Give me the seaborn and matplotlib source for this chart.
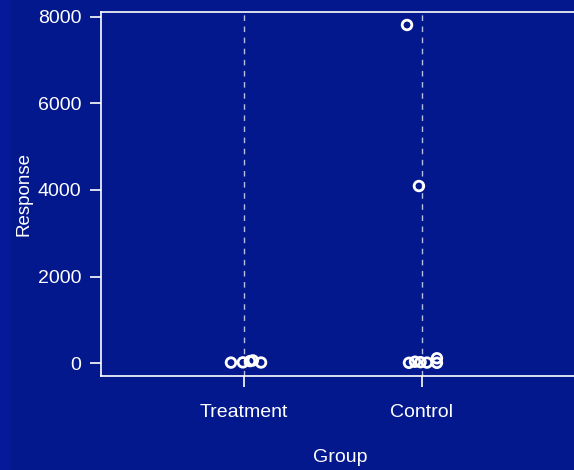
import matplotlib
matplotlib.use("Agg")
import matplotlib.pyplot as plt
import seaborn as sns
import pandas as pd
import numpy as np
from matplotlib.patches import Rectangle

# Data
categories = ["Treatment", "Control"]
treatment_values = [10, 15, 45, 60, 12]
treatment_jitter = [-0.073, -0.006, 0.034, 0.050, 0.096]
control_values = [7815, 4092, 5, 30, 20, 10, 110, 5]
control_jitter = [-0.084, -0.017, -0.073, -0.039, -0.008, 0.028, 0.084, 0.084]
y_ticks = [0, 2000, 4000, 6000, 8000]

df = pd.DataFrame({
    "Group": ["Treatment"] * len(treatment_values) + ["Control"] * len(control_values),
    "Response": treatment_values + control_values,
    "jitter": treatment_jitter + control_jitter,
})
df["pos"] = df["Group"].map({c: i for i, c in enumerate(categories)}) + df["jitter"]

bg = "#03188c"
sns.set_theme(style="white")
plt.rcParams["font.family"] = ["Liberation Sans", "DejaVu Sans"]

fig = plt.figure(figsize=(5.74, 4.70), dpi=100)
fig.patch.set_facecolor(bg)
fig.add_artist(Rectangle((0, 0), 10 / 574, 1, transform=fig.transFigure,
                         facecolor="#05199a", edgecolor="none", zorder=0))

ax = fig.add_axes([101 / 574, (470 - 376) / 470, 1 - 101 / 574 + 0.01, (376 - 12) / 470])
ax.set_facecolor(bg)

for i in range(len(categories)):
    ax.axvline(i, color="#b8bfe6", lw=1, ls=(0, (4, 4)), zorder=1)

sns.scatterplot(data=df, x="pos", y="Response", ax=ax, s=48, marker="o",
                facecolor="none", edgecolor="white", linewidth=2.0, zorder=3)

ax.set_xlim(-0.803, 1.854 + 0.01 * 574 / 178)
ax.set_ylim(-300, 8115)
ax.set_xticks(range(len(categories)))
ax.set_xticklabels(categories)
ax.set_yticks(y_ticks)
ax.set_yticklabels([str(t) for t in y_ticks])

for side in ["left", "bottom", "top"]:
    ax.spines[side].set_visible(True)
    ax.spines[side].set_color("white")
    ax.spines[side].set_linewidth(1.2)
ax.spines["right"].set_visible(False)

ax.tick_params(axis="both", colors="white", labelcolor="white", labelsize=14,
               length=8, width=1.2, direction="out", left=True, bottom=True)
ax.tick_params(axis="x", pad=12)
ax.tick_params(axis="y", pad=6)

ax.set_xlabel("Group", color="white", fontsize=14, labelpad=20)
ax.set_ylabel("Response", color="white", fontsize=13.5, labelpad=4)
ax.grid(False)

fig.savefig("out.png", dpi=100, facecolor=bg)
